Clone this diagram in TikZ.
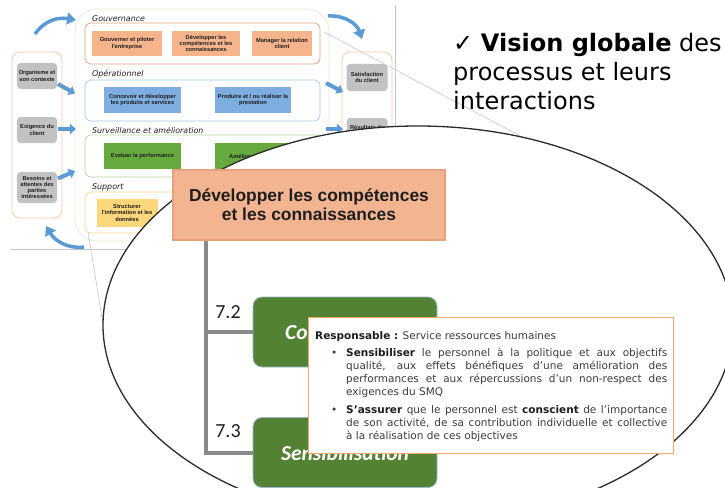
\documentclass[tikz,border=0pt]{standalone}
\usepackage{fontspec}
\setmainfont{DejaVu Sans}
\newfontfamily\arialf{Liberation Sans}
\newfontfamily\calibf{Carlito}
\usetikzlibrary{arrows.meta}
\definecolor{blueA}{HTML}{5B9BD5}
\definecolor{colB}{HTML}{F8C8A4}
\definecolor{greyF}{HTML}{C2C2C2}
\definecolor{mainB}{HTML}{E3EAD8}
\definecolor{govB}{HTML}{E2A27E}
\definecolor{opB}{HTML}{A8C8EC}
\definecolor{svB}{HTML}{B5D69E}
\definecolor{spB}{HTML}{FBD97E}
\definecolor{salm}{HTML}{F5B48C}
\definecolor{blueF}{HTML}{7DAEDF}
\definecolor{greenF}{HTML}{66AA3D}
\definecolor{yelF}{HTML}{FDD77C}
\definecolor{devF}{HTML}{F2B491}
\definecolor{devB}{HTML}{E6A17E}
\definecolor{dkG}{HTML}{548235}
\definecolor{gB}{HTML}{9EB8CF}
\definecolor{conG}{HTML}{8A8A8A}
\definecolor{popB}{HTML}{F9A865}
\definecolor{txtD}{HTML}{1E1E1E}
\definecolor{txtP}{HTML}{3C3C3C}
\definecolor{ellC}{HTML}{2B2B2B}
\definecolor{lineG}{HTML}{C6C6C6}
\newcommand\tnyf{\arialf\bfseries\fontsize{5.7}{6.3}\selectfont}
\newcommand\secf{\itshape\fontsize{7.9}{9}\selectfont}
\newcommand\popf{\fontsize{10.5}{13}\selectfont}
\begin{document}
\begin{tikzpicture}[x=1pt,y=-1pt,
  tiny/.style={inner sep=0pt, align=center, text=txtD, font=\tnyf},
  gbox/.style={tiny, fill=greyF, rounded corners=3.5pt},
  frm/.style={draw=#1, line width=0.7pt, rounded corners=6pt, minimum width=235pt, inner sep=0pt},
  sec/.style={anchor=west, inner sep=0pt, font=\secf, text=txtD},
  barrow/.style={blueA, line width=4pt, -{Triangle[length=6pt,width=10pt]}},
  carrow/.style={blueA, line width=3.5pt, -{Triangle[length=9pt,width=12pt]}},
  tline/.style={lineG, line width=0.6pt},
  gstep/.style={fill=dkG, draw=gB, line width=0.8pt, rounded corners=9pt, minimum width=184pt, minimum height=70pt, inner sep=0pt},
  gtext/.style={inner sep=0pt, text=white, font=\calibf\bfseries\itshape\fontsize{21.5}{24}\selectfont},
  conn/.style={conG, line width=4pt},
  numlab/.style={inner sep=0pt, text=txtD, font=\calibf\fontsize{20}{22}\selectfont},
  ptext/.style={anchor=base west, inner sep=0pt, text=txtP, font=\popf}
]
\useasboundingbox (0,0) rectangle (725,487);
\fill[white] (0,0) rectangle (725,487);

% ---------- background process map ----------
\draw[tline] (395,5) -- (395,200);
\draw[tline] (10,249) -- (150,249);

\node[draw=mainB, line width=0.7pt, rounded corners=22pt, minimum width=254pt, minimum height=232pt, inner sep=0pt] (mc) at (202,125) {};
\node[draw=colB, line width=0.8pt, rounded corners=8pt, minimum width=50pt, minimum height=166pt, inner sep=0pt] (lc) at (37,135) {};
\node[draw=colB, line width=0.8pt, rounded corners=8pt, minimum width=50pt, minimum height=216pt, inner sep=0pt] (rc) at (367,160) {};

\node[gbox, minimum width=40pt, minimum height=26pt] (o1) at (37,76) {Organisme et\\son contexte};
\node[gbox, minimum width=40pt, minimum height=26pt] (o2) at (37,130) {Exigence du\\client};
\node[gbox, minimum width=40pt, minimum height=31pt] (o3) at (37,187.5) {Besoins et\\attentes des\\parties\\intéressées};
\node[gbox, minimum width=41pt, minimum height=27pt] (s1) at (367,77.5) {Satisfaction\\du client};
\node[gbox, minimum width=41pt, minimum height=34pt] (s2) at (367,135) {};
\node[tiny] (s2t) at (367,127.5) {Résultats de};

\node[frm=govB, minimum height=41pt] (fg) at (202.5,43.5) {};
\node[frm=opB, minimum height=41pt] (fo) at (202.5,100.5) {};
\node[frm=svB, minimum height=42pt] (fs) at (202.5,156) {};
\node[frm=spB, minimum height=41pt] (fp) at (202.5,212.5) {};

\node[sec] (lg) at (92,19) {Gouvernance};
\node[sec] (lo) at (92,74) {Opérationnel};
\node[sec] (ls) at (92,130.5) {Surveillance et amélioration};
\node[sec] (lp) at (92,187) {Support};

\node[tiny, fill=salm, minimum width=70pt, minimum height=25pt] (g1) at (127,43.5) {Gouverner et piloter\\l'entreprise};
\node[tiny, fill=salm, minimum width=68pt, minimum height=25pt] (g2) at (206,43.5) {Développer les\\compétences et les\\connaissances};
\node[tiny, fill=salm, minimum width=60pt, minimum height=25pt] (g3) at (282,43.5) {Manager la relation\\client};
\node[tiny, fill=blueF, minimum width=77pt, minimum height=26pt] (p1) at (142.5,100) {Concevoir et développer\\les produits et services};
\node[tiny, fill=blueF, minimum width=76pt, minimum height=26pt] (p2) at (253,100) {Produire et / ou réaliser la\\prestation};
\node[tiny, fill=greenF, minimum width=77pt, minimum height=26pt] (v1) at (142.5,156) {Evaluer la performance};
\node[tiny, fill=greenF, minimum width=76pt, minimum height=26pt] (v2) at (253,156) {};
\node[tiny, anchor=west] (v2t) at (229,156) {Améliorer};
\node[tiny, fill=yelF, minimum width=61pt, minimum height=28pt] (y1) at (127,213) {Structurer\\l'information et les\\données};
\node[tiny, fill=yelF, minimum width=70pt, minimum height=28pt] (y2) at (206,213) {};

% blue arrows
\coordinate (a1s) at (58,84);   \coordinate (a1e) at (75,93.5);
\coordinate (a2s) at (58,129);  \coordinate (a2e) at (76,129);
\coordinate (a3s) at (58,178.5);\coordinate (a3e) at (75,171);
\coordinate (a4s) at (326,83);  \coordinate (a4e) at (343,92);
\coordinate (a5s) at (326,129); \coordinate (a5e) at (343,129);
\foreach \i in {1,...,5} {\draw[barrow] (a\i s) -- (a\i e);}
\coordinate (c1s) at (35,34);  \coordinate (c1e) at (76,20);
\coordinate (c2s) at (328,16); \coordinate (c2e) at (362,39);
\coordinate (c3s) at (84,247); \coordinate (c3e) at (46,226);
\draw[carrow] (c1s) .. controls (45,20) and (58,17) .. (c1e);
\draw[carrow] (c2s) .. controls (345,15) and (357,24) .. (c2e);
\draw[carrow] (c3s) .. controls (68,249) and (55,241) .. (c3e);

% magnifier lines
\coordinate (ta1) at (324,32);  \coordinate (ta2) at (524,138);
\coordinate (tb1) at (88,232);  \coordinate (tb2) at (104,330);
\draw[tline] (ta1) -- (ta2);
\draw[tline] (tb1) -- (tb2);

% ---------- magnifier ----------
\draw[fill=white, draw=ellC, line width=1.3pt] (418,325) ellipse [x radius=315pt, y radius=199pt];

\node[fill=devF, draw=devB, line width=1.5pt, minimum width=272pt, minimum height=70pt, inner sep=0pt, align=center, text=txtD, font=\arialf\bfseries\fontsize{17.4}{19}\selectfont] (dev) at (309,205) {Développer les compétences\\et les connaissances};

\node[gstep] (g72) at (345,332) {};
\node[gstep] (g73) at (345,452.5) {};
\node[gtext, anchor=west] (g72t) at (285,333) {Co};
\node[gtext] (g73t) at (345,453) {Sensibilisation};
\coordinate (dv) at ([xshift=34pt]dev.south west);
\draw[conn] (dv) |- (g72.west);
\draw[conn] (dv) |- (g73.west);
\node[numlab] (l72) at (228,312) {7.2};
\node[numlab] (l73) at (228,431) {7.3};

\node[fill=white, draw=popB, line width=0.8pt, minimum width=365pt, minimum height=136pt, inner sep=0pt] (pop) at (490.5,385) {};
\node[ptext] (resp) at (315,339) {\textbf{\color{txtD}Responsable :} Service ressources humaines};
\node[ptext] (d1) at (331,356) {\textbullet};
\node[ptext] (b1) at (346,356) {\parbox[t]{321pt}{\popf\hyphenpenalty=10000
\textbf{\color{txtD}Sensibiliser} le personnel à la politique et aux objectifs\linebreak
qualité, aux effets bénéfiques d'une amélioration des\linebreak
performances et aux répercussions d'un non-respect des\linebreak
exigences du SMQ}};
\node[ptext] (d2) at (331,413) {\textbullet};
\node[ptext] (b2) at (346,413) {\parbox[t]{321pt}{\popf\hyphenpenalty=10000
\textbf{\color{txtD}S'assurer} que le personnel est \textbf{\color{txtD}conscient} de l'importance\linebreak
de son activité, de sa contribution individuelle et collective\linebreak
à la réalisation de ces objectives}};

% ---------- right caption ----------
\node[anchor=base west, inner sep=0pt, text=black] (vis) at (453,52) {\parbox[t]{285pt}{\raggedright\fontsize{24}{29}\selectfont ✓ \textbf{Vision globale} des\\processus et leurs\\interactions}};
\end{tikzpicture}
\end{document}
